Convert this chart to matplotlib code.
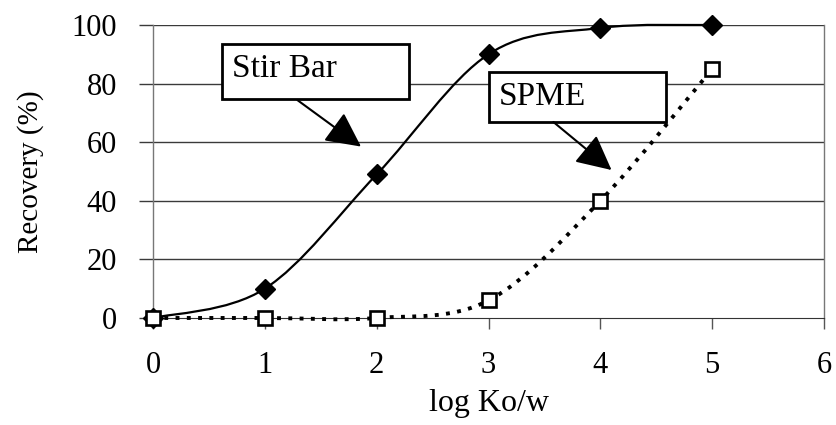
import numpy as np
import matplotlib.pyplot as plt
from matplotlib.path import Path
from matplotlib.patches import PathPatch, Rectangle

# recovery vs. hydrophobicity
log_kow = [0, 1, 2, 3, 4, 5]
stir_bar = [0, 10, 49, 90, 99, 100]
spme = [0, 0, 0, 6, 40, 85]
x_ticks = [0, 1, 2, 3, 4, 5, 6]
y_ticks = [0, 20, 40, 60, 80, 100]

plt.rcParams['font.family'] = ['Liberation Serif', 'DejaVu Serif']


def smooth_path(x, y):
    # cubic bezier through the points, spreadsheet-style smoothing
    p = np.column_stack([x, y]).astype(float)
    n = len(p)
    verts = [p[0]]
    codes = [Path.MOVETO]
    for i in range(n - 1):
        prev = p[i - 1] if i > 0 else p[i]
        nxt = p[i + 2] if i + 2 < n else p[i + 1]
        c1 = p[i] + (p[i + 1] - prev) / 6.0
        c2 = p[i + 1] - (nxt - p[i]) / 6.0
        verts += [c1, c2, p[i + 1]]
        codes += [Path.CURVE4] * 3
    return Path(verts, codes)


fig = plt.figure(figsize=(8.37, 4.25), dpi=100)
ax = fig.add_axes([0.1828, 0.2518, 0.8017, 0.6894])
ax.set_xlim(0, 6)
ax.set_ylim(0, 100)

for yv in y_ticks[1:]:
    ax.axhline(yv, color='#3a3a3a', lw=1.0, zorder=1)

ax.add_patch(PathPatch(smooth_path(log_kow, stir_bar), fill=False,
                       color='black', lw=1.6, zorder=3, clip_on=False))
ax.add_patch(PathPatch(smooth_path(log_kow, spme), fill=False,
                       color='black', lw=2.8, linestyle=(0, (1.0, 1.9)),
                       zorder=3, clip_on=False))
ax.plot(log_kow, stir_bar, linestyle='none', marker='D', markersize=10,
        color='black', zorder=4, clip_on=False)
ax.plot(log_kow, spme, linestyle='none', marker='s', markersize=10,
        markerfacecolor='white', markeredgecolor='black', markeredgewidth=1.9,
        zorder=5, clip_on=False)

# callout boxes
ax.add_patch(Rectangle((0.617, 74.7), 1.673, 18.8, facecolor='white',
                       edgecolor='black', lw=2.0, zorder=6))
ax.text(0.71, 85.2, 'Stir Bar', fontsize=24, va='center', ha='left', zorder=7)
ax.annotate('', xy=(1.86, 58.5), xytext=(1.29, 74.4),
            arrowprops=dict(arrowstyle='-|>,head_length=0.9,head_width=0.45',
                            color='black', lw=1.5, mutation_scale=24,
                            shrinkA=0, shrinkB=0), zorder=6)
ax.add_patch(Rectangle((3.0, 66.9), 1.59, 17.1, facecolor='white',
                       edgecolor='black', lw=2.0, zorder=6))
ax.text(3.09, 75.6, 'SPME', fontsize=24, va='center', ha='left', zorder=7)
ax.annotate('', xy=(4.10, 50.5), xytext=(3.58, 66.9),
            arrowprops=dict(arrowstyle='-|>,head_length=0.9,head_width=0.45',
                            color='black', lw=1.5, mutation_scale=24,
                            shrinkA=0, shrinkB=0), zorder=6)

ax.set_xticks(x_ticks)
ax.set_yticks(y_ticks)
ax.tick_params(axis='x', direction='out', length=8, width=1, color='#555555',
               labelsize=22, pad=16)
ax.tick_params(axis='y', direction='out', length=10, width=1, color='#3a3a3a',
               labelsize=22, pad=16)
for side in ['left', 'right', 'top']:
    ax.spines[side].set_color('#777777')
    ax.spines[side].set_linewidth(1.0)
ax.spines['top'].set_visible(False)
ax.spines['bottom'].set_color('#333333')

ax.set_xlabel('log Ko/w', fontsize=23, labelpad=6)
ax.set_ylabel('Recovery (%)', fontsize=21, labelpad=20)

fig.savefig('out.png', dpi=100)
